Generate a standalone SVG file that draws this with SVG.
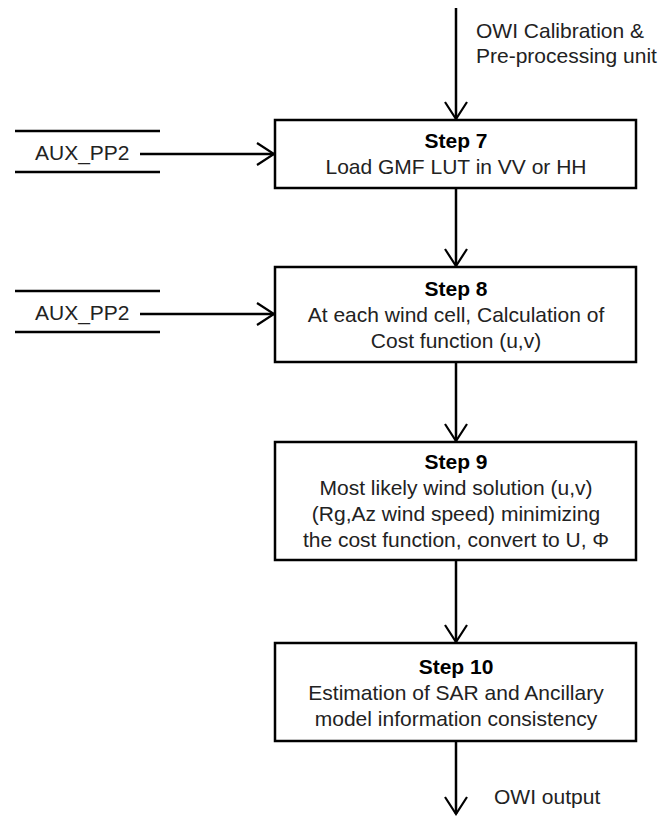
<svg xmlns="http://www.w3.org/2000/svg" width="661" height="816" viewBox="0 0 661 816">
<defs>
<marker id="ah" viewBox="-20 -13 22 26" refX="0" refY="0" markerWidth="22" markerHeight="26" markerUnits="userSpaceOnUse" orient="auto">
<path d="M-17,-11 L0,0 L-17,11" fill="none" stroke="#000" stroke-width="2.2"/>
</marker>
<style>
.box{fill:#fff;stroke:#000;stroke-width:2.5}
.ln{stroke:#000;stroke-width:2.5;fill:none}
.t{font-family:"Liberation Sans",Arial,sans-serif;font-size:21px;fill:#222}
.c{text-anchor:middle}
.b{font-weight:bold;fill:#000}
</style>
</defs>
<g id="connectors">
<line class="ln" x1="456" y1="8" x2="456" y2="119" marker-end="url(#ah)"/>
<line class="ln" x1="140" y1="154" x2="274" y2="154" marker-end="url(#ah)"/>
<line class="ln" x1="456" y1="188" x2="456" y2="266" marker-end="url(#ah)"/>
<line class="ln" x1="140" y1="314" x2="274" y2="314" marker-end="url(#ah)"/>
<line class="ln" x1="456" y1="362" x2="456" y2="441" marker-end="url(#ah)"/>
<line class="ln" x1="456" y1="560" x2="456" y2="642" marker-end="url(#ah)"/>
<line class="ln" x1="456" y1="741" x2="456" y2="814" marker-end="url(#ah)"/>
</g>
<g id="input-label">
<text class="t" x="476" y="38">OWI Calibration &amp;</text>
<text class="t" x="476" y="63">Pre-processing unit</text>
</g>
<g id="aux1">
<line class="ln" x1="15" y1="131" x2="160" y2="131"/>
<line class="ln" x1="15" y1="172" x2="160" y2="172"/>
<text class="t" x="35" y="160">AUX_PP2</text>
</g>
<g id="aux2">
<line class="ln" x1="15" y1="291" x2="160" y2="291"/>
<line class="ln" x1="15" y1="332" x2="160" y2="332"/>
<text class="t" x="35" y="320">AUX_PP2</text>
</g>
<g id="step7">
<rect class="box" x="275" y="120" width="361" height="68"/>
<text class="t c b" x="456" y="148">Step 7</text>
<text class="t c" x="456" y="174">Load GMF LUT in VV or HH</text>
</g>
<g id="step8">
<rect class="box" x="275" y="267" width="361" height="95"/>
<text class="t c b" x="456" y="296">Step 8</text>
<text class="t c" x="456" y="322">At each wind cell, Calculation of</text>
<text class="t c" x="456" y="348">Cost function (u,v)</text>
</g>
<g id="step9">
<rect class="box" x="275" y="442" width="361" height="118"/>
<text class="t c b" x="456" y="469">Step 9</text>
<text class="t c" x="456" y="495">Most likely wind solution (u,v)</text>
<text class="t c" x="456" y="521">(Rg,Az wind speed) minimizing</text>
<text class="t c" x="456" y="547">the cost function, convert to U, Φ</text>
</g>
<g id="step10">
<rect class="box" x="275" y="643" width="361" height="98"/>
<text class="t c b" x="456" y="674">Step 10</text>
<text class="t c" x="456" y="700">Estimation of SAR and Ancillary</text>
<text class="t c" x="456" y="726">model information consistency</text>
</g>
<g id="output-label">
<text class="t" x="494" y="804">OWI output</text>
</g>
</svg>
